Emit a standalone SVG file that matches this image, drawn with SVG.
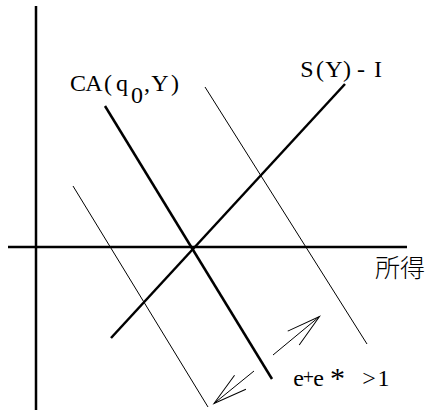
<svg xmlns="http://www.w3.org/2000/svg" width="430" height="410" viewBox="0 0 430 410">
<style>
.thick{stroke:#000;stroke-width:2.5;fill:none}
.thin{stroke:#000;stroke-width:1;fill:none}
.lbl{font-family:"Liberation Serif","Noto Sans CJK JP",serif;font-size:24px;fill:#000;text-anchor:middle}
.cjk{font-family:"Noto Sans CJK JP",sans-serif;font-size:25px;font-weight:300;fill:#000}
</style>
<defs>
<marker id="head" markerUnits="userSpaceOnUse" markerWidth="40" markerHeight="24" refX="0" refY="0" viewBox="-36 -12 40 24" orient="auto" overflow="visible">
<path d="M-33.8,-9 L0,0 L-33.8,9" fill="none" stroke="#000" stroke-width="1"/>
</marker>
</defs>
<rect width="430" height="410" fill="#fff"/>
<g id="axes">
<line class="thick" x1="36" y1="6" x2="36" y2="410"/>
<line class="thick" x1="8" y1="247" x2="407" y2="247"/>
</g>
<g id="connectors">
<line class="thick" x1="105" y1="106" x2="272" y2="379"/>
<line class="thick" x1="111" y1="338" x2="345" y2="84"/>
<line class="thin" x1="73" y1="186" x2="208" y2="407"/>
<line class="thin" x1="205" y1="87" x2="367" y2="344"/>
<line class="thin" x1="273" y1="355" x2="319.5" y2="316.5" marker-end="url(#head)"/>
<line class="thin" x1="254" y1="371" x2="214" y2="403.5" marker-end="url(#head)"/>
</g>
<g id="label-ca">
<text class="lbl" y="91"><tspan x="78 94 108 122">CA(q</tspan><tspan x="137" y="103">0</tspan><tspan x="147 160 175" y="91">,Y)</tspan></text>
</g>
<g id="label-s">
<text class="lbl" y="77" x="307 320 334 347 361 378">S(Y)-I</text>
</g>
<g id="label-income">
<text class="cjk" x="375" y="277">所得</text>
</g>
<g id="label-e">
<text class="lbl" y="386"><tspan x="298.5">e</tspan><tspan x="308.5" y="384" font-size="20">+</tspan><tspan x="318.5" y="386">e</tspan><tspan x="337.5" y="388" font-size="30">*</tspan><tspan x="369 383.5" y="386">&gt;1</tspan></text>
</g>
</svg>
